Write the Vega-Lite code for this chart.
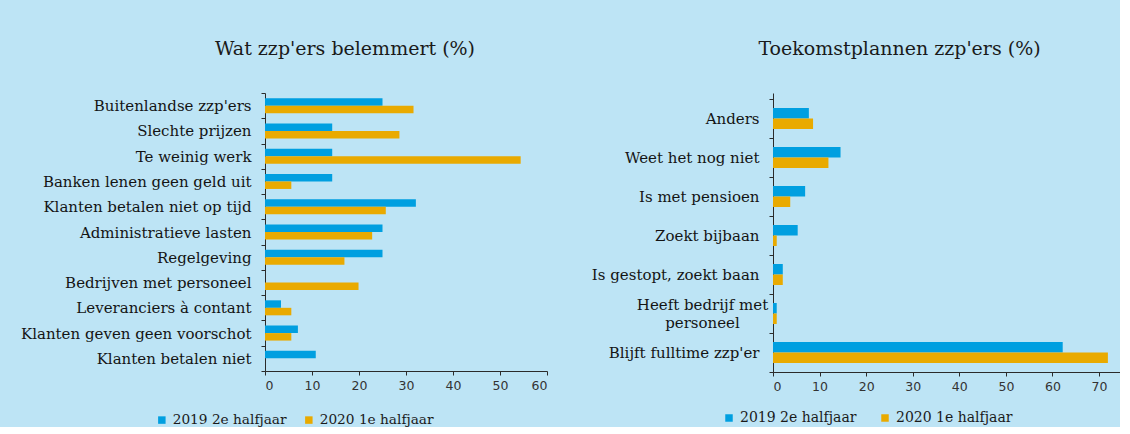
{
  "$schema": "https://vega.github.io/schema/vega-lite/v6.json",
  "background": "#bde4f5",
  "padding": {"left": 20, "top": 40, "right": 0, "bottom": 0},
  "datasets": {
    "left": [
      {"cat": "Buitenlandse zzp'ers", "period": "2019 2e halfjaar", "value": 25.0},
      {"cat": "Buitenlandse zzp'ers", "period": "2020 1e halfjaar", "value": 31.6},
      {"cat": "Slechte prijzen", "period": "2019 2e halfjaar", "value": 14.3},
      {"cat": "Slechte prijzen", "period": "2020 1e halfjaar", "value": 28.6},
      {"cat": "Te weinig werk", "period": "2019 2e halfjaar", "value": 14.3},
      {"cat": "Te weinig werk", "period": "2020 1e halfjaar", "value": 54.4},
      {"cat": "Banken lenen geen geld uit", "period": "2019 2e halfjaar", "value": 14.3},
      {"cat": "Banken lenen geen geld uit", "period": "2020 1e halfjaar", "value": 5.6},
      {"cat": "Klanten betalen niet op tijd", "period": "2019 2e halfjaar", "value": 32.1},
      {"cat": "Klanten betalen niet op tijd", "period": "2020 1e halfjaar", "value": 25.7},
      {"cat": "Administratieve lasten", "period": "2019 2e halfjaar", "value": 25.0},
      {"cat": "Administratieve lasten", "period": "2020 1e halfjaar", "value": 22.8},
      {"cat": "Regelgeving", "period": "2019 2e halfjaar", "value": 25.0},
      {"cat": "Regelgeving", "period": "2020 1e halfjaar", "value": 16.9},
      {"cat": "Bedrijven met personeel", "period": "2019 2e halfjaar", "value": 0},
      {"cat": "Bedrijven met personeel", "period": "2020 1e halfjaar", "value": 19.9},
      {"cat": "Leveranciers à contant", "period": "2019 2e halfjaar", "value": 3.4},
      {"cat": "Leveranciers à contant", "period": "2020 1e halfjaar", "value": 5.6},
      {"cat": "Klanten geven geen voorschot", "period": "2019 2e halfjaar", "value": 7.0},
      {"cat": "Klanten geven geen voorschot", "period": "2020 1e halfjaar", "value": 5.6},
      {"cat": "Klanten betalen niet", "period": "2019 2e halfjaar", "value": 10.8},
      {"cat": "Klanten betalen niet", "period": "2020 1e halfjaar", "value": 0}
    ],
    "right": [
      {"cat": "Anders", "period": "2019 2e halfjaar", "value": 7.7},
      {"cat": "Anders", "period": "2020 1e halfjaar", "value": 8.6},
      {"cat": "Weet het nog niet", "period": "2019 2e halfjaar", "value": 14.5},
      {"cat": "Weet het nog niet", "period": "2020 1e halfjaar", "value": 11.9},
      {"cat": "Is met pensioen", "period": "2019 2e halfjaar", "value": 6.9},
      {"cat": "Is met pensioen", "period": "2020 1e halfjaar", "value": 3.7},
      {"cat": "Zoekt bijbaan", "period": "2019 2e halfjaar", "value": 5.3},
      {"cat": "Zoekt bijbaan", "period": "2020 1e halfjaar", "value": 0.8},
      {"cat": "Is gestopt, zoekt baan", "period": "2019 2e halfjaar", "value": 2.1},
      {"cat": "Is gestopt, zoekt baan", "period": "2020 1e halfjaar", "value": 2.1},
      {"cat": "Heeft bedrijf met personeel", "period": "2019 2e halfjaar", "value": 0.8},
      {"cat": "Heeft bedrijf met personeel", "period": "2020 1e halfjaar", "value": 0.8},
      {"cat": "Blijft fulltime zzp'er", "period": "2019 2e halfjaar", "value": 62.2},
      {"cat": "Blijft fulltime zzp'er", "period": "2020 1e halfjaar", "value": 71.9}
    ]
  },
  "config": {
    "view": {"stroke": null},
    "font": "DejaVu Serif",
    "title": {"font": "DejaVu Serif", "fontSize": 19, "fontWeight": "normal", "color": "#1a1a1a", "anchor": "middle", "frame": "group"},
    "axis": {"domainColor": "#2b2b2b", "tickColor": "#2b2b2b", "tickSize": 4, "grid": false, "title": null},
    "axisX": {"labelFont": "DejaVu Sans", "labelFontSize": 12.5, "labelColor": "#333333", "labelPadding": 4},
    "axisY": {"labelFont": "DejaVu Serif", "labelFontSize": 15, "labelColor": "#141414", "labelPadding": 10, "labelLimit": 400, "tickBand": "extent"},
    "legend": {"orient": "none", "direction": "horizontal", "title": null, "symbolType": "square", "symbolSize": 56, "labelFont": "DejaVu Serif", "labelFontSize": 13.7, "labelColor": "#1a1a1a", "columnPadding": 15, "labelOffset": 4, "symbolStrokeWidth": 0}
  },
  "resolve": {"scale": {"yOffset": "independent"}, "legend": {"color": "independent"}},
  "spacing": 43,
  "hconcat": [
    {
      "title": {"text": "Wat zzp'ers belemmert (%)", "dx": -61, "offset": 27},
      "data": {"name": "left"},
      "width": 282,
      "height": 278,
      "mark": {"type": "bar"},
      "encoding": {
        "y": {"field": "cat", "type": "nominal", "sort": null, "scale": {"paddingInner": 0, "paddingOuter": 0}, "axis": {}},
        "yOffset": {"field": "period", "type": "nominal", "sort": ["2019 2e halfjaar", "2020 1e halfjaar"], "scale": {"paddingInner": 0, "paddingOuter": 0.685}},
        "x": {"field": "value", "type": "quantitative", "scale": {"domain": [0, 60], "nice": false}, "axis": {"values": [0, 10, 20, 30, 40, 50, 60]}},
        "color": {"field": "period", "type": "nominal", "scale": {"domain": ["2019 2e halfjaar", "2020 1e halfjaar"], "range": ["#009fe0", "#e9aa00"]}, "legend": {"legendX": -110, "legendY": 320}}
      }
    },
    {
      "title": {"text": "Toekomstplannen zzp'ers (%)", "dx": -47, "offset": 27},
      "data": {"name": "right"},
      "width": 347,
      "height": 279,
      "mark": {"type": "bar"},
      "encoding": {
        "y": {"field": "cat", "type": "nominal", "sort": null, "scale": {"paddingInner": 0, "paddingOuter": 0.077, "align": 1}, "axis": {"labelLineHeight": 18, "labelExpr": "datum.value == 'Heeft bedrijf met personeel' ? ['Heeft bedrijf met', 'personeel'] : datum.label", "labelAlign": {"condition": {"test": "datum.value == 'Heeft bedrijf met personeel'", "value": "center"}, "value": "right"}, "labelPadding": {"condition": {"test": "datum.value == 'Heeft bedrijf met personeel'", "value": 67}, "value": 10}, "labelOffset": {"condition": {"test": "datum.value == 'Heeft bedrijf met personeel'", "value": -9}, "value": 0}}},
        "yOffset": {"field": "period", "type": "nominal", "sort": ["2019 2e halfjaar", "2020 1e halfjaar"], "scale": {"paddingInner": 0, "paddingOuter": 0.857}},
        "x": {"field": "value", "type": "quantitative", "scale": {"domain": [0, 74.5], "nice": false}, "axis": {"values": [0, 10, 20, 30, 40, 50, 60, 70]}},
        "color": {"field": "period", "type": "nominal", "scale": {"domain": ["2019 2e halfjaar", "2020 1e halfjaar"], "range": ["#009fe0", "#e9aa00"]}, "legend": {"legendX": -51, "legendY": 318, "labelFontSize": 14, "columnPadding": 21}}
      }
    }
  ]
}
